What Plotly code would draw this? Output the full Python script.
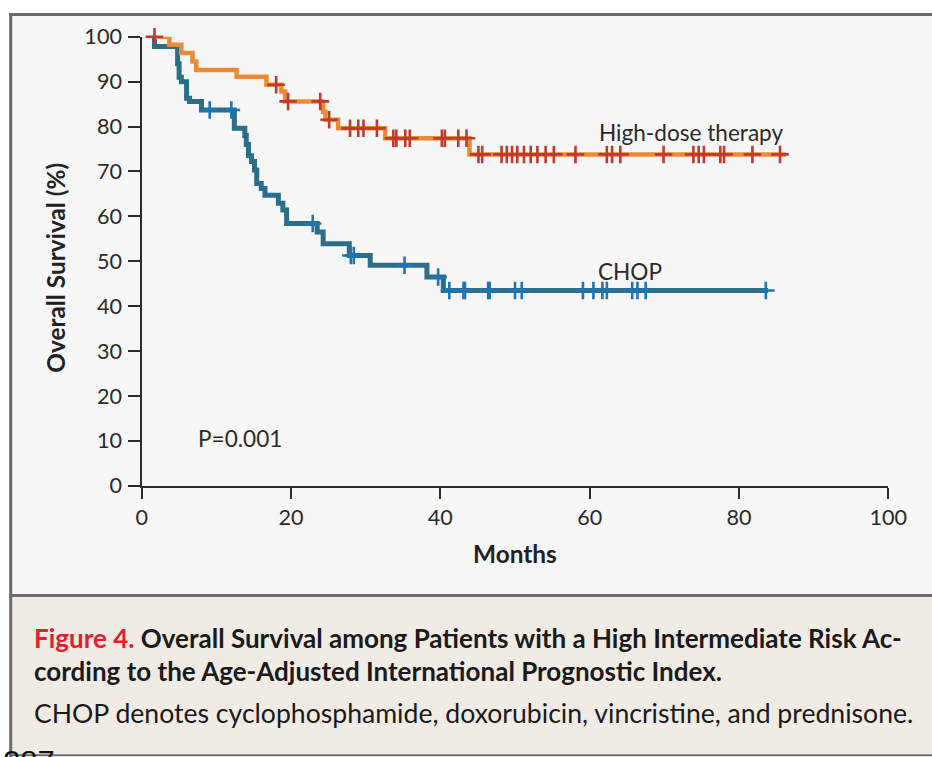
import plotly.graph_objects as go

# ---- Kaplan-Meier step data (months, overall survival %) ----
hd_event_months = [1.5, 3.7, 5.3, 6.8, 7.3, 12.7, 16.7, 18.7, 19.2, 24.3, 24.6, 26.3, 32.6, 43.9]
hd_survival = [100, 98.2, 96.4, 94.5, 92.6, 91.1, 89.3, 87.8, 85.6, 83.3, 81.5, 79.6, 77.4, 73.8]
hd_last_month = 86.3
hd_censored = [1.7, 18.0, 19.6, 23.9, 25.1, 27.9, 29.0, 29.7, 31.5, 33.7, 34.1, 35.3, 35.9,
               40.2, 40.6, 42.4, 43.5, 45.1, 45.6, 48.2, 48.9, 49.6, 50.3, 51.2, 52.1, 53.0,
               54.1, 55.2, 58.1, 62.3, 63.0, 64.1, 69.9, 73.9, 74.6, 75.3, 77.5, 78.0, 81.8, 85.5]

chop_event_months = [1.5, 1.7, 4.8, 5.0, 5.3, 6.0, 6.4, 8.0, 12.4, 13.8, 14.0, 14.3, 14.7, 15.1,
                     15.4, 16.0, 16.5, 18.3, 18.9, 19.4, 23.5, 24.3, 27.8, 30.6, 38.2, 40.4]
chop_survival = [100, 97.8, 94.0, 91.0, 90.0, 86.3, 85.6, 83.7, 79.6, 78.0, 76.0, 73.5, 72.2, 70.3,
                 67.3, 66.2, 64.7, 62.9, 61.4, 58.4, 56.5, 53.9, 51.3, 49.1, 46.5, 43.5]
chop_last_month = 83.9
chop_censored = [9.1, 12.0, 22.9, 28.0, 28.4, 35.2, 39.7, 41.2, 43.1, 43.3, 46.4, 46.6, 50.0, 50.9,
                 59.1, 60.5, 61.7, 62.3, 65.7, 66.4, 67.5, 83.6]

x_ticks = [0, 20, 40, 60, 80, 100]
y_ticks = list(range(0, 101, 10))

# figure size, and the offset/scale at which the page is displayed
W, H = 960, 780
OX, OY = 6.8, 13.0
SX, SY = 0.972, 0.965


def step_value(months, surv, t):
    val = surv[0]
    for m, s in zip(months, surv):
        if m <= t:
            val = s
    return val


def px_x(p):
    return (p - OX) / SX / W


def px_y(p):
    return 1 - (p - OY) / SY / H


fig = go.Figure()

series = [
    (chop_event_months, chop_survival, chop_last_month, chop_censored, "#2A6E88", "#1F74B4", 5, "CHOP"),
    (hd_event_months, hd_survival, hd_last_month, hd_censored, "#E88C3A", "#BE3A2C", 4.5, "High-dose therapy"),
]
for months, surv, last, cens, lcol, mcol, lw, name in series:
    fig.add_trace(go.Scatter(
        x=months + [last], y=surv + [surv[-1]], mode="lines",
        line=dict(color=lcol, width=lw, shape="hv"), name=name,
        showlegend=False, hoverinfo="skip", cliponaxis=False))
    fig.add_trace(go.Scatter(
        x=cens, y=[step_value(months, surv, t) for t in cens], mode="markers",
        marker=dict(symbol="cross-thin", size=12.5, line=dict(color=mcol, width=2.6)),
        showlegend=False, hoverinfo="skip", cliponaxis=False))

axis_font = dict(family="Lato", size=21.6, color="#2a2a2a")
x0, x100 = 142.3, 887.3
y0, y100 = 485.0, 36.7

fig.update_xaxes(
    range=[0, 100], domain=[px_x(x0), px_x(x100)], tickvals=x_ticks,
    showline=True, linecolor="#2b2b2b", linewidth=2, ticks="outside", ticklen=11.5,
    tickwidth=2, tickcolor="#2b2b2b", showgrid=False, zeroline=False,
    tickfont=axis_font, anchor="y")
fig.update_yaxes(
    range=[0, 100], domain=[px_y(y0), px_y(y100)], tickvals=y_ticks,
    showline=True, linecolor="#2b2b2b", linewidth=2, ticks="outside", ticklen=11.5,
    tickwidth=2, tickcolor="#2b2b2b", showgrid=False, zeroline=False,
    tickfont=axis_font, anchor="x", ticklabelstandoff=2)

shapes = [
    # panel backgrounds
    dict(type="rect", xref="paper", yref="paper", x0=px_x(11), x1=1, y0=px_y(594), y1=1,
         fillcolor="#F7F7F7", line=dict(width=0), layer="below"),
    dict(type="rect", xref="paper", yref="paper", x0=px_x(11), x1=1, y0=px_y(753), y1=px_y(594),
         fillcolor="#F0EBE5", line=dict(width=0), layer="below"),
    # frame lines
    dict(type="line", xref="paper", yref="paper", x0=px_x(11.5), x1=px_x(11.5), y0=0, y1=1,
         line=dict(color="#6B6B6B", width=3)),
    dict(type="line", xref="paper", yref="paper", x0=px_x(10), x1=1, y0=px_y(14.5), y1=px_y(14.5),
         line=dict(color="#6B6B6B", width=3)),
    dict(type="line", xref="paper", yref="paper", x0=px_x(10), x1=1, y0=px_y(594.5), y1=px_y(594.5),
         line=dict(color="#6B6B6B", width=3)),
    dict(type="line", xref="paper", yref="paper", x0=px_x(10), x1=1, y0=px_y(754), y1=px_y(754),
         line=dict(color="#6B6B6B", width=2)),
]

label_font = dict(family="Lato", size=22.6, color="#2a2a2a")
title_font = dict(family="Lato", size=24.4, color="#222")
caption_bold = dict(family="Lato", size=26, color="#1a1a1a")
caption_regular = dict(family="Lato", size=26.6, color="#1a1a1a")
annotations = [
    dict(x=61.0, y=78.6, xref="x", yref="y", text="High-dose therapy", showarrow=False,
         xanchor="left", yanchor="middle", font=label_font),
    dict(x=60.9, y=47.8, xref="x", yref="y", text="CHOP", showarrow=False,
         xanchor="left", yanchor="middle", font=label_font),
    dict(x=7.2, y=10.5, xref="x", yref="y", text="P=0.001", showarrow=False,
         xanchor="left", yanchor="middle", font=label_font),
    dict(x=px_x(56), y=px_y(267), xref="paper", yref="paper", text="<b>Overall Survival (%)</b>",
         showarrow=False, textangle=-90, xanchor="center", yanchor="middle", font=title_font),
    dict(x=px_x(515), y=px_y(553), xref="paper", yref="paper", text="<b>Months</b>",
         showarrow=False, xanchor="center", yanchor="middle", font=title_font),
    dict(x=px_x(33), y=px_y(637), xref="paper", yref="paper",
         text='<b><span style="color:#E3202E">Figure 4.</span> Overall Survival among Patients with a High Intermediate Risk Ac-</b>',
         showarrow=False, xanchor="left", yanchor="middle", font=caption_bold),
    dict(x=px_x(33), y=px_y(670), xref="paper", yref="paper",
         text="<b>cording to the Age-Adjusted International Prognostic Index.</b>",
         showarrow=False, xanchor="left", yanchor="middle", font=caption_bold),
    dict(x=px_x(33), y=px_y(712), xref="paper", yref="paper",
         text="CHOP denotes cyclophosphamide, doxorubicin, vincristine, and prednisone.",
         showarrow=False, xanchor="left", yanchor="middle", font=caption_regular),
    dict(x=px_x(2), y=px_y(742), xref="paper", yref="paper", text="287",
         showarrow=False, xanchor="left", yanchor="top",
         font=dict(family="Liberation Sans", size=31, color="#111")),
]

fig.update_layout(
    width=W, height=H, margin=dict(l=0, r=0, t=0, b=0),
    paper_bgcolor="white", plot_bgcolor="rgba(0,0,0,0)",
    shapes=shapes, annotations=annotations, showlegend=False)

fig.write_html("out.html")
